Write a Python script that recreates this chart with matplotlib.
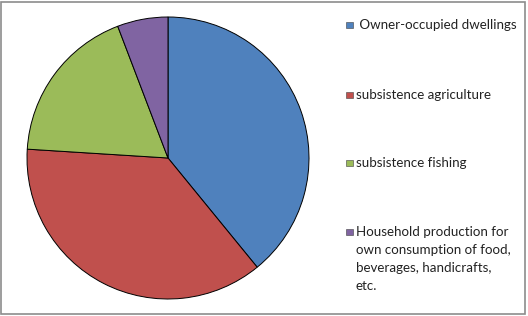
import matplotlib
matplotlib.use("Agg")
import matplotlib.pyplot as plt
from matplotlib.patches import Rectangle

categories = [" Owner-occupied dwellings", "subsistence agriculture", "subsistence fishing",
              "Household production for\nown consumption of food,\nbeverages, handicrafts,\netc."]
values = [39.1, 36.9, 18.2, 5.8]
colors = ["#4F81BD", "#C0504D", "#9BBB59", "#8064A2"]

W, H = 528, 316
fig = plt.figure(figsize=(W / 100, H / 100), dpi=100)
fig.patch.set_facecolor("white")

cx, cy, r = 168, 158, 141
ax = fig.add_axes([(cx - r) / W, (H - cy - r) / H, 2 * r / W, 2 * r / H])
ax.pie(values, colors=colors, startangle=90, counterclock=False,
       wedgeprops=dict(edgecolor="black", linewidth=0.7))
ax.set_xlim(-1.0, 1.0)
ax.set_ylim(-1.0, 1.0)
ax.set_aspect("equal")
ax.axis("off")

# outer border
fig.patches.append(Rectangle((1 / W, 2 / H), 524 / W, 312 / H, transform=fig.transFigure,
                             fill=False, edgecolor="#8c8c8c", linewidth=1.2))

# legend
ys = [25, 95, 163, 232]
fs = 9.6
for lab, col, y in zip(categories, colors, ys):
    fig.patches.append(Rectangle((346 / W, (H - y - 3.3) / H), 6.5 / W, 6.5 / H,
                                 transform=fig.transFigure, facecolor=col,
                                 edgecolor="#404040", linewidth=0.4))
    for i, ln in enumerate(lab.split("\n")):
        fig.text(356 / W, (H - (y + i * 18)) / H, ln, fontsize=fs, family="Lato",
                 color="#222222", va="center", ha="left")

fig.savefig("out.png", dpi=100, facecolor="white")
